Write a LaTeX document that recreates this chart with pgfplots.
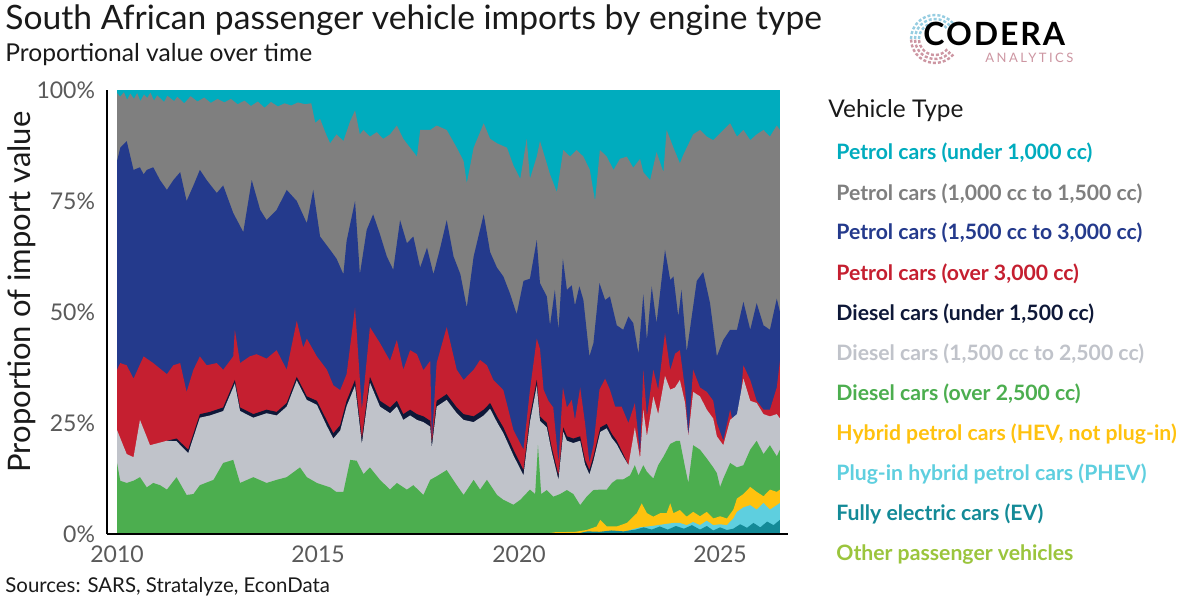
\documentclass[border=0pt]{standalone}
\usepackage{pgfplots}
\pgfplotsset{compat=1.18}
\usepackage{fontspec}
\setmainfont{Lato}
\newfontfamily\logofont[LetterSpace=6]{Lato}
\newfontfamily\anafont[LetterSpace=19]{Lato}
\definecolor{cTeal}{RGB}{0,172,190}
\definecolor{cGray}{RGB}{127,127,127}
\definecolor{cNavy}{RGB}{36,58,140}
\definecolor{cRed}{RGB}{197,31,48}
\definecolor{cDark}{RGB}{14,24,56}
\definecolor{cLGray}{RGB}{192,195,202}
\definecolor{cGreen}{RGB}{76,174,79}
\definecolor{cGold}{RGB}{255,194,14}
\definecolor{cCyan}{RGB}{94,207,223}
\definecolor{cEV}{RGB}{19,138,151}
\definecolor{cOther}{RGB}{155,197,61}
\definecolor{tickc}{RGB}{90,90,90}
\definecolor{titlec}{RGB}{26,26,26}
\definecolor{logopink}{RGB}{205,150,162}
\definecolor{logoblue}{RGB}{150,205,225}
\begin{document}
\begin{tikzpicture}[x=0.5bp,y=-0.5bp]
\useasboundingbox (0,0) rectangle (1200,600);
\fill[white] (0,0) rectangle (1200,600);
\begin{axis}[
  at={(53.5bp,-267bp)}, anchor=south west,
  width=340.5bp, height=222bp, scale only axis,
  xmin=2009.75, xmax=2026.69, ymin=0, ymax=100,
  axis x line*=bottom, axis y line*=left,
  axis line style={black, line width=1bp, -},
  axis on top,
  major tick length=0pt,
  xtick={2010,2015,2020,2025}, xticklabels={2010,2015,2020,2025},
  ytick={0,25,50,75,100}, yticklabels={0\%,25\%,50\%,75\%,100\%},
  tick label style={font=\fontsize{11.5bp}{13bp}\selectfont, text=tickc},
  yticklabel style={xshift=-2.5bp},
  xticklabel style={yshift=-2.5bp},
  ylabel={Proportion of import value},
  ylabel style={font=\fontsize{15.5bp}{18bp}\selectfont, text=titlec, at={(axis description cs:-0.125,0.545)}, anchor=center},
  clip=true,
]
% top layer: petrol under 1,000 cc (remainder to 100%)
\addplot[fill=cTeal, draw=none] coordinates {(2010.00,100)(2026.49,100)} \closedcycle;
% top of petrol 1,000-1,500 cc
\addplot[fill=cGray, draw=none] coordinates {(2010.00,99.3)(2010.08,98.5)(2010.17,99.5)(2010.25,97.8)(2010.33,99.2)(2010.42,98)(2010.50,99.3)(2010.58,97.5)(2010.67,99)(2010.75,98.2)(2010.83,99.4)(2010.92,97.6)(2011.00,98.8)(2011.17,97.3)(2011.25,98.7)(2011.42,97.5)(2011.50,98.5)(2011.67,97)(2011.83,98.6)(2012.00,97.4)(2012.17,98.3)(2012.33,97.1)(2012.50,98)(2012.67,97.2)(2012.83,98)(2013.00,96.8)(2013.17,97.6)(2013.33,96.4)(2013.50,97.4)(2013.67,96)(2013.83,97.3)(2014.00,96.3)(2014.17,97)(2014.33,96.5)(2014.50,97.2)(2014.67,96.8)(2014.83,97)(2014.93,92.6)(2015.05,93.5)(2015.20,90)(2015.30,88)(2015.46,90)(2015.63,88.5)(2015.80,93)(2015.92,95.4)(2016.04,90)(2016.13,91)(2016.29,89.5)(2016.46,90.5)(2016.62,89)(2016.79,90)(2016.96,92)(2017.12,89)(2017.29,87)(2017.46,85)(2017.54,91)(2017.79,91)(2017.95,92)(2018.20,91)(2018.45,87)(2018.62,84)(2018.70,79)(2018.87,87)(2019.12,92.5)(2019.28,89)(2019.45,88)(2019.70,87)(2019.86,83)(2020.03,80)(2020.19,89)(2020.27,80)(2020.44,85)(2020.52,88.5)(2020.77,81)(2020.94,77)(2021.10,86.5)(2021.27,85)(2021.43,86.5)(2021.60,85)(2021.76,82)(2021.89,75)(2022.01,86.5)(2022.18,85)(2022.35,82)(2022.51,84.5)(2022.68,85)(2022.84,82.5)(2023.01,84.5)(2023.09,81.5)(2023.26,79.7)(2023.42,86)(2023.59,81.5)(2023.67,91)(2023.84,87)(2024.00,83.5)(2024.09,85.5)(2024.33,90)(2024.50,91)(2024.67,89.5)(2024.83,88.7)(2025.08,91)(2025.25,92.5)(2025.42,89.5)(2025.58,91)(2025.75,88.7)(2025.91,90)(2026.08,91)(2026.24,89.5)(2026.41,92)(2026.49,91)} \closedcycle;
% top of petrol 1,500-3,000 cc
\addplot[fill=cNavy, draw=none] coordinates {(2010.00,84)(2010.08,87)(2010.24,88.5)(2010.41,82)(2010.57,82.6)(2010.66,81)(2010.74,82)(2010.90,82.6)(2011.07,79.7)(2011.24,77.5)(2011.40,79.7)(2011.57,81.5)(2011.73,75)(2011.90,78.5)(2012.06,82)(2012.23,79.7)(2012.48,76.8)(2012.64,78.5)(2012.89,72.3)(2013.14,68)(2013.35,79.7)(2013.56,73)(2013.72,70.7)(2013.97,73)(2014.22,77.5)(2014.47,75)(2014.72,70)(2014.88,77.5)(2015.05,67)(2015.30,64)(2015.46,62)(2015.63,58.5)(2015.71,66)(2015.92,75)(2016.04,58.5)(2016.21,68.5)(2016.37,72)(2016.54,67.5)(2016.71,62.5)(2016.87,59.5)(2017.04,70.7)(2017.21,65.5)(2017.37,67)(2017.54,60)(2017.71,64.5)(2017.87,58.5)(2018.04,64.5)(2018.20,70.7)(2018.37,62.5)(2018.54,58.5)(2018.70,51)(2018.87,62.5)(2019.12,72)(2019.28,63.5)(2019.45,60)(2019.61,58)(2019.78,54)(2019.94,49.5)(2020.11,57)(2020.27,57.5)(2020.44,66.2)(2020.52,56.5)(2020.69,53.5)(2020.77,47)(2020.89,55)(2020.98,46)(2021.09,62)(2021.19,55)(2021.31,56)(2021.39,51.5)(2021.50,55.8)(2021.60,52.7)(2021.75,40)(2021.85,43)(2022.00,56.5)(2022.14,52.7)(2022.26,53.5)(2022.43,47)(2022.59,46)(2022.72,49)(2022.84,47.5)(2022.97,40.6)(2023.09,54)(2023.18,43.7)(2023.30,55.7)(2023.42,47.5)(2023.63,64)(2023.76,57.2)(2023.84,58)(2023.96,49)(2024.04,55)(2024.17,41)(2024.42,57)(2024.58,59)(2024.75,52)(2024.92,40)(2025.08,43.7)(2025.25,46)(2025.42,46)(2025.58,52.3)(2025.75,46)(2025.91,52)(2026.08,47)(2026.24,46)(2026.41,53)(2026.49,50)} \closedcycle;
% top of petrol over 3,000 cc
\addplot[fill=cRed, draw=none] coordinates {(2010.00,37)(2010.08,38.5)(2010.24,38)(2010.41,35)(2010.66,40)(2010.90,38.5)(2011.24,36)(2011.40,38)(2011.57,38.5)(2011.73,32)(2011.90,37)(2012.06,40)(2012.23,38)(2012.48,38.5)(2012.64,37)(2012.89,40)(2012.93,46)(2013.06,38.5)(2013.30,40)(2013.47,40.5)(2013.72,39.5)(2013.97,41.4)(2014.22,37)(2014.47,48)(2014.63,42)(2014.72,44)(2014.97,40)(2015.22,37)(2015.38,33.5)(2015.55,32.4)(2015.71,36)(2015.92,51)(2016.09,28)(2016.29,46.6)(2016.54,43)(2016.79,39)(2016.96,43.7)(2017.12,37)(2017.29,41.4)(2017.46,40.5)(2017.62,36.9)(2017.79,39)(2017.83,21)(2017.95,38.5)(2018.20,46.6)(2018.45,37)(2018.62,34.7)(2018.87,37)(2019.03,39.2)(2019.20,38)(2019.36,34.7)(2019.61,32.4)(2019.86,23.4)(2020.11,19)(2020.27,32.4)(2020.44,44)(2020.52,41.7)(2020.61,32.5)(2020.73,30)(2020.85,28.5)(2020.98,16)(2021.09,33)(2021.19,28.5)(2021.31,30.2)(2021.39,25.7)(2021.52,33)(2021.64,25)(2021.75,16)(2021.85,20)(2022.00,32.5)(2022.14,35)(2022.26,32.5)(2022.39,28.7)(2022.55,28.7)(2022.72,25)(2022.88,29.5)(2023.01,18)(2023.09,37)(2023.18,26.5)(2023.34,37)(2023.46,32.5)(2023.63,45.3)(2023.76,36.9)(2023.88,40.6)(2024.00,41.4)(2024.13,32.5)(2024.21,22)(2024.33,37)(2024.50,33)(2024.67,32)(2024.83,30)(2024.92,25)(2025.08,21)(2025.25,28)(2025.42,21)(2025.58,38)(2025.75,34.7)(2025.91,30)(2026.08,28)(2026.24,28)(2026.41,33)(2026.49,39)} \closedcycle;
% top of diesel under 1,500 cc
\addplot[fill=cDark, draw=none] coordinates {(2011.24,21)(2011.48,21.5)(2011.77,19)(2012.06,27)(2012.31,27.5)(2012.64,28.5)(2012.93,34.7)(2013.06,28.5)(2013.39,27)(2013.72,28)(2013.97,27.5)(2014.22,29.5)(2014.47,35.4)(2014.72,31)(2014.97,30)(2015.22,25.5)(2015.38,22.7)(2015.55,24.5)(2015.71,30)(2015.92,34.7)(2016.09,21.5)(2016.29,35.4)(2016.54,30)(2016.79,28.5)(2016.96,30)(2017.12,27)(2017.29,28)(2017.46,27)(2017.62,26.5)(2017.79,25.5)(2017.83,20.5)(2017.95,30)(2018.20,31.5)(2018.45,28.5)(2018.62,27)(2018.87,26.5)(2019.12,28)(2019.28,29.5)(2019.45,26.5)(2019.61,24)(2019.86,19)(2020.11,14.4)(2020.27,26.5)(2020.44,34.7)(2020.52,26.5)(2020.69,25)(2020.81,19.6)(2020.98,13.2)(2021.10,24)(2021.19,22)(2021.35,21.5)(2021.52,22)(2021.64,16.7)(2021.75,14.4)(2021.85,17.5)(2022.02,24)(2022.18,24.8)(2022.31,22.5)(2022.43,21)(2022.59,18)(2022.72,15.5)} \closedcycle;
% top of diesel 1,500-2,500 cc
\addplot[fill=cLGray, draw=none] coordinates {(2010.00,23.4)(2010.24,18)(2010.41,17.3)(2010.57,25.7)(2010.82,20)(2011.24,21)(2011.48,20.9)(2011.77,18.2)(2012.06,26.2)(2012.31,26.7)(2012.64,27.7)(2012.93,33.9)(2013.06,27.7)(2013.39,26.2)(2013.72,27.2)(2013.97,26.7)(2014.22,28.7)(2014.47,34.6)(2014.72,30.2)(2014.97,29.1)(2015.22,24.3)(2015.38,21.5)(2015.55,23.3)(2015.71,28.8)(2015.92,33.4)(2016.09,20.3)(2016.29,34.1)(2016.54,28.7)(2016.79,27.2)(2016.96,28.7)(2017.12,25.7)(2017.29,26.7)(2017.46,25.7)(2017.62,25.2)(2017.79,24.2)(2017.83,19.5)(2017.95,28.7)(2018.20,30.2)(2018.45,27.2)(2018.62,25.7)(2018.87,25.2)(2019.12,26.7)(2019.28,28.2)(2019.45,25.2)(2019.61,22.7)(2019.86,17.7)(2020.11,13.2)(2020.27,25.2)(2020.44,33.4)(2020.52,25.5)(2020.69,24)(2020.81,18.6)(2020.98,12.2)(2021.10,23)(2021.19,21)(2021.35,20.5)(2021.52,21)(2021.64,15.7)(2021.75,13.4)(2021.85,16.5)(2022.02,23)(2022.18,23.8)(2022.31,21.6)(2022.43,20.2)(2022.59,17.5)(2022.72,15.5)(2022.88,24)(2023.01,17)(2023.09,28)(2023.18,22)(2023.34,31)(2023.46,27)(2023.63,35.6)(2023.76,32.5)(2023.88,33)(2024.00,34.7)(2024.13,29.5)(2024.21,22)(2024.33,32)(2024.50,31)(2024.67,28)(2024.83,26)(2024.92,22)(2025.08,20)(2025.25,25.7)(2025.42,27)(2025.58,35)(2025.75,30)(2025.91,29.5)(2026.08,27)(2026.24,26.5)(2026.41,27)(2026.49,26)} \closedcycle;
% top of diesel over 2,500 cc
\addplot[fill=cGreen, draw=none] coordinates {(2010.00,16)(2010.08,12)(2010.24,11.5)(2010.41,12)(2010.57,12.8)(2010.74,10.5)(2010.90,11.5)(2011.07,11)(2011.24,10)(2011.48,12.8)(2011.73,8.8)(2011.90,9)(2012.06,11)(2012.40,12.2)(2012.64,16)(2012.89,16.7)(2013.06,11.5)(2013.39,12.8)(2013.72,11.5)(2013.97,12.2)(2014.22,12.8)(2014.55,15)(2014.72,12.8)(2014.97,11.5)(2015.30,10.5)(2015.45,9.5)(2015.63,9.5)(2015.80,16.7)(2015.96,16.5)(2016.13,13.5)(2016.29,15)(2016.54,12.2)(2016.79,10)(2016.96,11.5)(2017.21,10)(2017.37,11)(2017.62,8.8)(2017.79,12.2)(2017.95,13)(2018.20,14.4)(2018.45,11)(2018.62,8.8)(2018.87,12.2)(2019.03,10)(2019.20,12.2)(2019.45,8.8)(2019.61,7.7)(2019.86,6.6)(2020.03,7.7)(2020.27,10)(2020.40,9)(2020.47,20)(2020.55,9)(2020.69,9.9)(2020.85,8.4)(2021.02,9)(2021.19,9.9)(2021.35,9)(2021.52,6.5)(2021.68,8.4)(2021.85,9.9)(2022.02,10)(2022.18,10)(2022.31,11.5)(2022.43,12.3)(2022.59,12.3)(2022.76,13.2)(2022.88,15.5)(2022.97,13.2)(2023.09,15.5)(2023.18,14)(2023.34,12.5)(2023.46,15.5)(2023.59,17.4)(2023.76,20.3)(2023.92,21)(2024.00,21)(2024.13,15)(2024.21,11.5)(2024.33,20)(2024.50,19)(2024.67,17)(2024.83,15)(2024.92,13.7)(2025.00,10.6)(2025.08,12.5)(2025.25,16)(2025.42,15)(2025.58,15.5)(2025.75,19)(2025.91,21)(2026.08,18)(2026.24,20)(2026.41,17.5)(2026.49,19)} \closedcycle;
% top of hybrid petrol (HEV)
\addplot[fill=cGold, draw=none] coordinates {(2020.60,0)(2020.90,0.4)(2021.40,0.5)(2021.68,0.9)(2021.93,1.7)(2022.02,3.2)(2022.18,1.7)(2022.43,1.7)(2022.68,2.5)(2022.93,4.7)(2023.05,6.9)(2023.18,4.7)(2023.34,3.9)(2023.51,4.7)(2023.67,4.7)(2023.76,6.9)(2023.84,4.7)(2024.00,5.4)(2024.17,3.9)(2024.33,5)(2024.50,4)(2024.67,5)(2024.83,3.5)(2025.00,4)(2025.17,3.5)(2025.33,5.5)(2025.42,8)(2025.58,9)(2025.75,10.6)(2025.91,9.5)(2026.08,8.5)(2026.24,10)(2026.41,9.5)(2026.49,10)} \closedcycle;
% top of plug-in hybrid (PHEV)
\addplot[fill=cCyan, draw=none] coordinates {(2022.50,0)(2022.80,1)(2023.00,1.5)(2023.30,1.8)(2023.60,2.2)(2023.84,2.5)(2024.00,2.5)(2024.17,2)(2024.33,2.7)(2024.50,2)(2024.67,3)(2024.83,2)(2025.00,2.2)(2025.17,2)(2025.33,3.5)(2025.42,5)(2025.58,6)(2025.75,6.5)(2025.91,5.5)(2026.08,7)(2026.24,5.5)(2026.41,6.5)(2026.49,7)} \closedcycle;
% top of fully electric (EV)
\addplot[fill=cEV, draw=none] coordinates {(2021.40,0)(2021.70,0.6)(2022.00,0.5)(2022.30,0.8)(2022.60,0.6)(2022.90,1)(2023.10,1.5)(2023.30,1)(2023.50,1.7)(2023.70,1)(2023.90,1.8)(2024.10,1.2)(2024.30,2)(2024.50,1)(2024.67,1.8)(2024.83,0.8)(2025.00,1.5)(2025.17,0.9)(2025.33,1.2)(2025.50,2.2)(2025.67,1.4)(2025.83,2.5)(2026.00,1.5)(2026.17,2.8)(2026.33,2)(2026.49,3.2)} \closedcycle;
% other passenger vehicles
\addplot[fill=cOther, draw=none] coordinates {(2010.00,0.3)(2026.49,0.3)} \closedcycle;
\end{axis}
% titles
\node[anchor=base west, inner sep=0pt, text=titlec, font=\fontsize{16.8bp}{19bp}\selectfont] at (5,30) {South African passenger vehicle imports by engine type};
\node[anchor=base west, inner sep=0pt, text=titlec, font=\fontsize{12.3bp}{14bp}\selectfont] at (5,62) {Proportional value over time};
\node[anchor=base west, inner sep=0pt, text=titlec, font=\fontsize{10.2bp}{12bp}\selectfont] at (5,592) {Sources: SARS, Stratalyze, EconData};
% legend
\node[anchor=base west, inner sep=0pt, text=titlec, font=\fontsize{12.2bp}{14bp}\selectfont] at (828,118) {Vehicle Type};
\begin{scope}[every node/.style={anchor=base west, inner sep=0pt, font=\bfseries\fontsize{10.6bp}{13bp}\selectfont}]
\node[text=cTeal]  at (836,160) {Petrol cars (under 1,000 cc)};
\node[text=cGray]  at (836,200) {Petrol cars (1,000 cc to 1,500 cc)};
\node[text=cNavy]  at (836,240) {Petrol cars (1,500 cc to 3,000 cc)};
\node[text=cRed]   at (836,280) {Petrol cars (over 3,000 cc)};
\node[text=cDark]  at (836,320) {Diesel cars (under 1,500 cc)};
\node[text=cLGray] at (836,360) {Diesel cars (1,500 cc to 2,500 cc)};
\node[text=cGreen] at (836,400) {Diesel cars (over 2,500 cc)};
\node[text=cGold]  at (836,440) {Hybrid petrol cars (HEV, not plug-in)};
\node[text=cCyan]  at (836,480) {Plug-in hybrid petrol cars (PHEV)};
\node[text=cEV]    at (836,520) {Fully electric cars (EV)};
\node[text=cOther] at (836,560) {Other passenger vehicles};
\end{scope}
% logo
\foreach \r in {16,20,24} {
  \draw[logopink, line width=1.2bp, dash pattern=on 1.5bp off 1bp] (935,39) ++(40:\r) arc[start angle=40, end angle=180, radius=\r];
  \draw[logoblue, line width=1.2bp, dash pattern=on 1.5bp off 1bp] (935,39) ++(180:\r) arc[start angle=180, end angle=320, radius=\r];
}
\node[anchor=base west, inner sep=0pt, text=black, font=\logofont\bfseries\fontsize{16bp}{18bp}\selectfont] at (923,46) {CODERA};
\node[anchor=base west, inner sep=0pt, text=logopink, font=\anafont\fontsize{6.5bp}{8bp}\selectfont] at (985,63) {ANALYTICS};
\end{tikzpicture}
\end{document}
